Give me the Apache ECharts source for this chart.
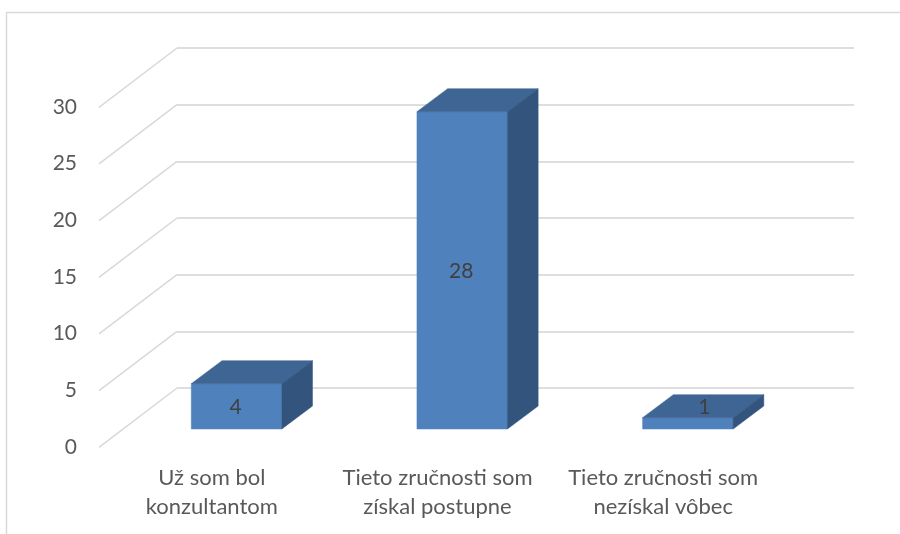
<!DOCTYPE html>
<html><head><meta charset="utf-8">
<style>html,body{margin:0;padding:0;background:#fff}#c{width:900px;height:534px}</style>
<script src="https://cdn.jsdelivr.net/npm/echarts@6/dist/echarts.min.js"></script>
</head><body><div id="c"></div>
<script>
const categories = ['Už som bol\nkonzultantom', 'Tieto zručnosti som\nzískal postupne', 'Tieto zručnosti som\nnezískal vôbec'];
const values = [4, 28, 1];
const yTicks = [0, 5, 10, 15, 20, 25, 30];

const FONT = 'Lato, "Open Sans", sans-serif';
const WALL_DX = 78, WALL_DY = 59.3;      // back wall to front plane
const BAR_DX = 53.3, BAR_DY = 41;        // back wall to front of the bars
const DEPTH_X = 30.7, DEPTH_Y = 23, BAR_W = 90.5;

function renderDiagonal(params, api) {
  const p = api.coord([0, api.value(0)]);
  const x0 = params.coordSys.x;
  return { type: 'line', silent: true,
    shape: { x1: x0, y1: p[1], x2: x0 - WALL_DX, y2: p[1] + WALL_DY },
    style: { stroke: '#D9D9D9', lineWidth: 1.5 } };
}
function renderBar(params, api) {
  const cat = api.value(0), val = api.value(1);
  const top = api.coord([cat, val]), base = api.coord([cat, 0]);
  const l = top[0] - BAR_DX - BAR_W / 2, r = l + BAR_W;
  const t = top[1] + BAR_DY, b = base[1] + BAR_DY;
  const onTop = b - t < 20;
  const lx = onTop ? (l + r + DEPTH_X) / 2 + 1 : (l + r) / 2 - 1;
  const ly = (onTop ? t - DEPTH_Y / 2 : (t + b) / 2) + 1;
  const poly = (pts, fill) => ({ type: 'polygon', shape: { points: pts }, style: { fill, stroke: fill, lineWidth: 0.5 } });
  return { type: 'group', children: [
    poly([[l, t], [r, t], [r, b], [l, b]], '#4F81BD'),
    poly([[l, t], [l + DEPTH_X, t - DEPTH_Y], [r + DEPTH_X, t - DEPTH_Y], [r, t]], '#3E6594'),
    poly([[r, t], [r + DEPTH_X, t - DEPTH_Y], [r + DEPTH_X, b - DEPTH_Y], [r, b]], '#32547D'),
    { type: 'text', z2: 10, style: { x: lx, y: ly, text: String(val), fill: '#404040', font: '21px ' + FONT, align: 'center', verticalAlign: 'middle' } }
  ] };
}

const chart = echarts.init(document.getElementById('c'), null, { renderer: 'canvas' });
chart.setOption({
  animation: false,
  backgroundColor: '#fff',
  textStyle: { fontFamily: FONT },
  graphic: [{ type: 'rect', silent: true, z: -1,
    shape: { x: 6.5, y: 12.5, width: 900, height: 600 },
    style: { fill: 'none', stroke: '#D9D9D9', lineWidth: 1.5 } }],
  grid: [
    { left: 177, width: 677, top: 48, height: 340 },
    { left: 99, width: 677, top: 107, height: 340 }
  ],
  xAxis: [
    { gridIndex: 0, type: 'category', data: categories, axisLine: { show: false }, axisTick: { show: false }, axisLabel: { show: false } },
    { gridIndex: 1, type: 'category', data: categories, axisLine: { show: false }, axisTick: { show: false },
      axisLabel: { color: '#595959', fontSize: 22, fontFamily: FONT, lineHeight: 29, margin: 16, interval: 0 } }
  ],
  yAxis: [
    { gridIndex: 0, type: 'value', min: 0, max: 30, interval: 5, axisLine: { show: false }, axisTick: { show: false }, axisLabel: { show: false },
      splitLine: { show: true, lineStyle: { color: '#DEDEDE', width: 2 } } },
    { gridIndex: 1, type: 'value', min: 0, max: 30, interval: 5, axisLine: { show: false }, axisTick: { show: false }, splitLine: { show: false },
      axisLabel: { color: '#595959', fontSize: 21, fontFamily: FONT, margin: 22 } }
  ],
  series: [
    { type: 'custom', xAxisIndex: 0, yAxisIndex: 0, silent: true, data: yTicks.map(t => [t]), encode: { y: 0 }, renderItem: renderDiagonal, z: 1 },
    { type: 'custom', xAxisIndex: 0, yAxisIndex: 0, silent: true, data: values.map((v, i) => [i, v]), encode: { x: 0, y: 1 }, renderItem: renderBar, z: 3 }
  ]
});
</script></body></html>
